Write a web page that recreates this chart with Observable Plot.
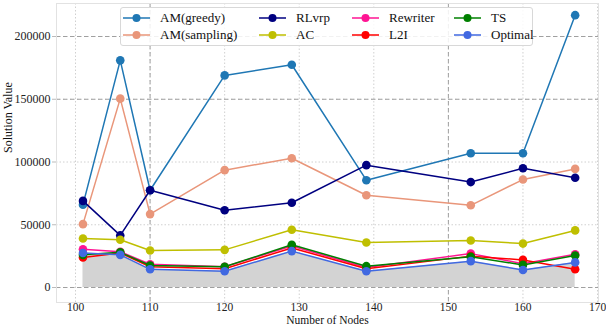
<!DOCTYPE html>
<html><head><meta charset="utf-8">
<script src="https://cdn.jsdelivr.net/npm/d3@7"></script>
<script src="https://cdn.jsdelivr.net/npm/@observablehq/plot@0.6"></script>
<style>
body{margin:0;background:#fff;}
#wrap{position:relative;width:606px;height:326px;}
#wrap svg text{font-family:'Liberation Serif','Times New Roman',serif !important;}
#legend{position:absolute;left:120px;top:7px;width:411px;height:37px;border:1px solid #d8d8d8;border-radius:3px;background:rgba(255,255,255,0.85);font-family:'Liberation Serif','Times New Roman',serif;}
.item{position:absolute;display:flex;align-items:center;font-size:13px;color:#111;white-space:nowrap;}
.item svg{margin-right:10px;}
</style>
</head><body>
<div id="wrap"></div>
<script>
const nodes = [101,106,110,120,129,139,153,160,167];
const amGreedy = [66000,181000,77500,169000,177500,85500,107000,107000,217000];
const amSampling = [50500,150500,58500,93500,103000,73500,65500,86000,94500];
const rlvrp = [69000,41500,77500,61500,67500,97500,84000,95000,87500];
const ac = [39000,38000,29500,30000,46000,35800,37500,35000,45500];
const rewriter = [30500,28500,18500,16500,33000,16000,27000,19000,26500];
const l2i = [24000,27500,16500,15000,31500,15000,25000,22000,14500];
const ts = [26000,28000,17500,16500,34000,17000,24500,18000,25500];
const optimal = [27500,26000,14500,13000,29000,13000,21000,14000,20000];

const seriesNames = ["AM(greedy)","AM(sampling)","RLvrp","AC","Rewriter","L2I","TS","Optimal"];
const seriesValues = [amGreedy,amSampling,rlvrp,ac,rewriter,l2i,ts,optimal];
const seriesColors = ["#1f77b4","#e9967a","#000080","#bfbf00","#ff1493","#ff0000","#008000","#4169e1"];
const xTicks = [100,110,120,130,140,150,160,170];
const yTicks = [0,50000,100000,150000,200000];

const rows = [];
seriesNames.forEach((s,i)=>nodes.forEach((n,j)=>rows.push({series:s, x:n, y:seriesValues[i][j]})));
const optRows = nodes.map((n,j)=>({x:n, y:optimal[j]}));

const marks = [
  Plot.gridX(xTicks, {stroke:"#d0d0d0", strokeOpacity:1, strokeDasharray:"1.5,2"}),
  Plot.gridY(yTicks, {stroke:"#d0d0d0", strokeOpacity:1, strokeDasharray:"1.5,2"}),
  Plot.gridX([110,150], {stroke:"#a0a0a0", strokeOpacity:1, strokeDasharray:"4,3"}),
  Plot.gridY([0,150000,200000], {stroke:"#a0a0a0", strokeOpacity:1, strokeDasharray:"4,3"}),
  Plot.frame({stroke:"#e2e2e2"}),
  Plot.areaY(optRows, {x:"x", y:"y", fill:"#d3d3d3"}),
];
seriesNames.forEach((s,i)=>{
  const d = rows.filter(r=>r.series===s);
  marks.push(Plot.line(d, {x:"x", y:"y", stroke:seriesColors[i], strokeWidth:1.5}));
  marks.push(Plot.dot(d, {x:"x", y:"y", fill:seriesColors[i], r:4.3}));
});
marks.push(
  Plot.axisY(yTicks, {tickFormat:d=>String(d), tickSize:4, tickPadding:2, stroke:"#bbb", fill:"#222", fontSize:12, label:null}),
  Plot.axisX(xTicks, {tickSize:0, tickPadding:0, fill:"#222", fontSize:11.5, label:null}),
  Plot.text(["Solution Value"], {frameAnchor:"left", dx:-48, rotate:-90, fontSize:12, fill:"#111"}),
  Plot.text(["Number of Nodes"], {frameAnchor:"bottom", dy:21.5, lineAnchor:"bottom", fontSize:11.5, fill:"#111"})
);

const chart = Plot.plot({
  width:606, height:326,
  marginLeft:56, marginRight:8, marginTop:3, marginBottom:24,
  x:{domain:[97.45,170.13]},
  y:{domain:[-11950,226300]},
  style:{fontFamily:"'Liberation Serif', serif", fontSize:"12px", background:"#fff", overflow:"visible"},
  marks
});
const wrap = document.getElementById("wrap");
wrap.appendChild(chart);

const legend = document.createElement("div");
legend.id = "legend";
const colX = [0, 136, 229, 331];
seriesNames.forEach((s,i)=>{
  const col = Math.floor(i/2), row = i%2;
  const el = document.createElement("div");
  el.className = "item";
  el.style.left = (colX[col]+2)+"px";
  el.style.top = (row===0?1:18)+"px";
  el.style.height = "17px";
  el.innerHTML = `<svg width="27" height="10"><line x1="0" x2="27" y1="5" y2="5" stroke="${seriesColors[i]}" stroke-width="1.5"/><circle cx="13.5" cy="5" r="4" fill="${seriesColors[i]}"/></svg><span>${s}</span>`;
  legend.appendChild(el);
});
wrap.appendChild(legend);
</script>
</body></html>
